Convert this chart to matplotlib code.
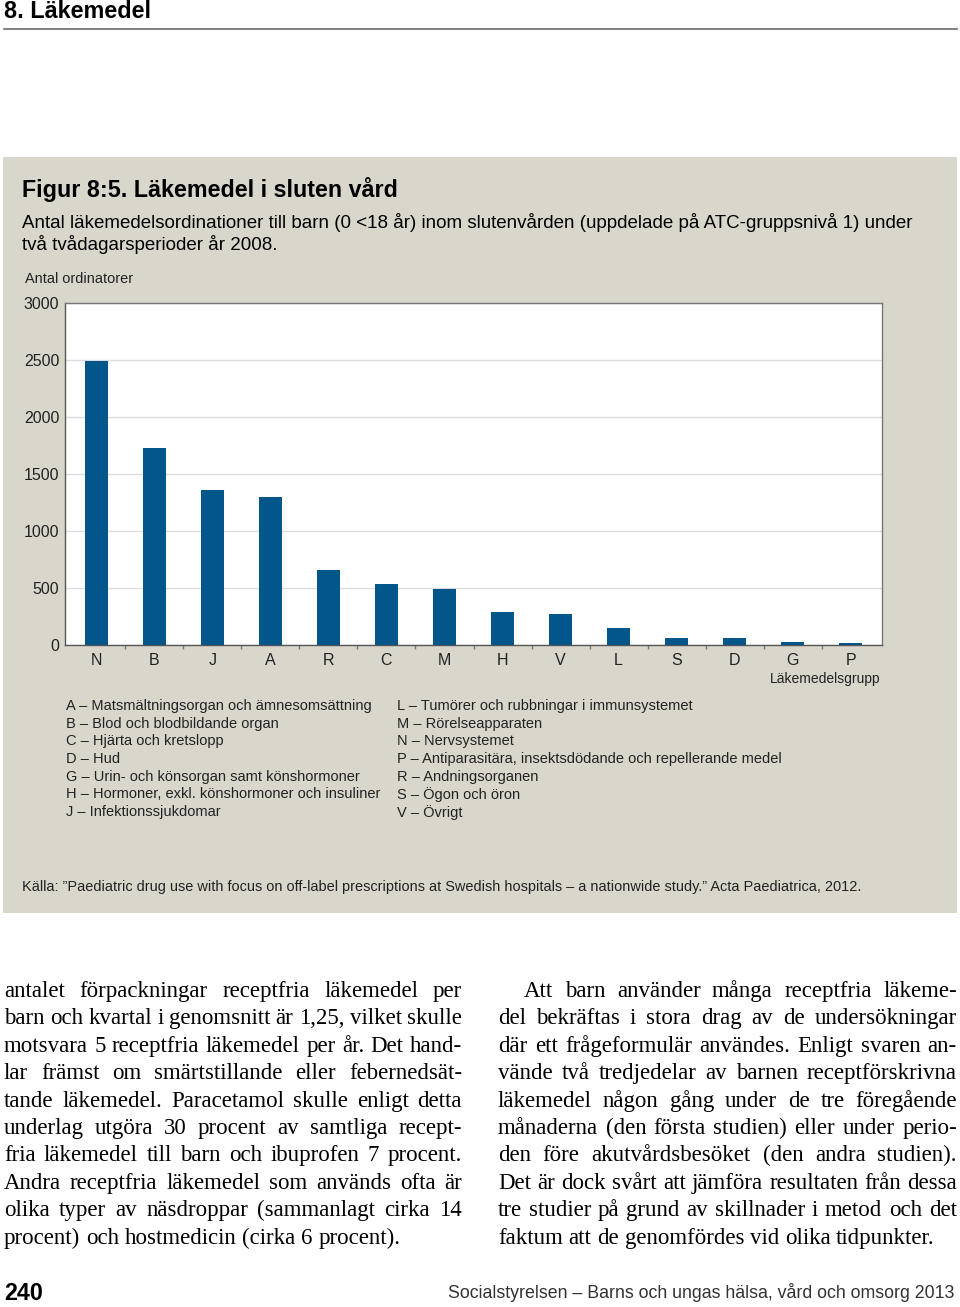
import matplotlib
matplotlib.use("Agg")
import matplotlib.pyplot as plt
from matplotlib import font_manager
from matplotlib.patches import Rectangle
from matplotlib.lines import Line2D

# data
groups = ['N', 'B', 'J', 'A', 'R', 'C', 'M', 'H', 'V', 'L', 'S', 'D', 'G', 'P']
counts = [2490, 1725, 1360, 1300, 655, 535, 490, 290, 275, 150, 60, 60, 30, 15]
y_ticks = [0, 500, 1000, 1500, 2000, 2500, 3000]

legend_left = [
    "A – Matsmältningsorgan och ämnesomsättning",
    "B – Blod och blodbildande organ",
    "C – Hjärta och kretslopp",
    "D – Hud",
    "G – Urin- och könsorgan samt könshormoner",
    "H – Hormoner, exkl. könshormoner och insuliner",
    "J – Infektionssjukdomar",
]
legend_right = [
    "L – Tumörer och rubbningar i immunsystemet",
    "M – Rörelseapparaten",
    "N – Nervsystemet",
    "P – Antiparasitära, insektsdödande och repellerande medel",
    "R – Andningsorganen",
    "S – Ögon och öron",
    "V – Övrigt",
]

body_left = [
    "antalet förpackningar receptfria läkemedel per",
    "barn och kvartal i genomsnitt är 1,25, vilket skulle",
    "motsvara 5 receptfria läkemedel per år. Det hand-",
    "lar främst om smärtstillande eller febernedsät-",
    "tande läkemedel. Paracetamol skulle enligt detta",
    "underlag utgöra 30 procent av samtliga recept-",
    "fria läkemedel till barn och ibuprofen 7 procent.",
    "Andra receptfria läkemedel som används ofta är",
    "olika typer av näsdroppar (sammanlagt cirka 14",
    "procent) och hostmedicin (cirka 6 procent).",
]
body_right = [
    "Att barn använder många receptfria läkeme-",
    "del bekräftas i stora drag av de undersökningar",
    "där ett frågeformulär användes. Enligt svaren an-",
    "vände två tredjedelar av barnen receptförskrivna",
    "läkemedel någon gång under de tre föregående",
    "månaderna (den första studien) eller under perio-",
    "den före akutvårdsbesöket (den andra studien).",
    "Det är dock svårt att jämföra resultaten från dessa",
    "tre studier på grund av skillnader i metod och det",
    "faktum att de genomfördes vid olika tidpunkter.",
]

# fonts: pick a narrow sans if there is one
names = {f.name for f in font_manager.fontManager.ttflist}
SANS = 'Liberation Sans Narrow' if 'Liberation Sans Narrow' in names else 'Liberation Sans'
SERIF = 'Liberation Serif'
plt.rcParams['font.family'] = [SANS, 'DejaVu Sans']

W, H = 960, 1307
BOX = '#d9d7cc'
BAR = '#03568a'

fig = plt.figure(figsize=(W / 100, H / 100), dpi=100)
renderer = fig.canvas.get_renderer()


def fx(x):
    return x / W


def fy(y):
    return 1 - y / H


def fit_text(x, y, s, width, size=12, **kw):
    # place text and scale its size so it covers the same width as in the reference
    t = fig.text(fx(x), fy(y), s, fontsize=size, va='center', **kw)
    w = t.get_window_extent(renderer).width
    t.set_fontsize(size * width / w)
    return t


def justify(lines, x0, width, y0, dy, size, indent=0):
    for i, line in enumerate(lines):
        words = line.split()
        xs = x0 + (indent if i == 0 else 0)
        avail = x0 + width - xs
        y = y0 + i * dy
        texts = [fig.text(0, fy(y), w, fontsize=size, family=SERIF, va='baseline') for w in words]
        widths = [t.get_window_extent(renderer).width for t in texts]
        em = size * 100 / 72
        min_gap = 0.18 * em
        need = sum(widths) + min_gap * (len(words) - 1)
        if need > avail:
            # squeeze the line a little, as the reference typesetting does
            k = avail / need
            for t in texts:
                t.set_fontsize(size * k)
            widths = [w * k for w in widths]
        if i == len(lines) - 1:
            gap = 0.25 * em
        else:
            gap = (avail - sum(widths)) / (len(words) - 1)
        x = xs
        for t, w in zip(texts, widths):
            t.set_x(fx(x))
            x += w + gap


# grey figure box
fig.patches.append(Rectangle((fx(3), fy(913)), 954 / W, 756 / H, transform=fig.transFigure,
                             facecolor=BOX, edgecolor='none', zorder=0))

# page header
fit_text(4, 12, "8. Läkemedel", 147, 16, fontweight='bold')
fig.add_artist(Line2D([fx(4), fx(957)], [fy(28.5), fy(28.5)], color='#6a6a6a', lw=1.2))

# figure title and subtitle
fit_text(22, 190, "Figur 8:5. Läkemedel i sluten vård", 375, 16, fontweight='bold')
sub = fit_text(22, 222, "Antal läkemedelsordinationer till barn (0 <18 år) inom slutenvården "
               "(uppdelade på ATC-gruppsnivå 1) under", 891, 13)
fig.text(fx(22), fy(244), "två tvådagarsperioder år 2008.", fontsize=sub.get_fontsize(), va='center')

# the bar chart
ax = fig.add_axes([fx(65), fy(645), (882 - 65) / W, (645 - 303) / H])
ax.set_zorder(2)
pos = list(range(len(groups)))
ax.bar(pos, counts, width=0.39, color=BAR, zorder=3)
ax.set_xlim(-0.54, len(groups) - 0.46)
ax.set_ylim(0, 3000)
ax.set_yticks(y_ticks)
ax.set_xticks(pos)
ax.set_xticklabels(groups)
ax.set_xticks([p + 0.5 for p in pos[:-1]], minor=True)
ax.grid(axis='y', color='#dcdcdc', lw=1, zorder=0)
ax.tick_params(axis='y', length=0, pad=4, labelsize=11.5, labelcolor='#222222')
ax.tick_params(axis='x', which='major', length=0, pad=6, labelsize=11.5, labelcolor='#222222')
ax.tick_params(axis='x', which='minor', length=3, width=1, color='#777777', direction='out')
for s in ['left', 'bottom']:
    ax.spines[s].set_color('#555555')
for s in ['top', 'right']:
    ax.spines[s].set_color('#777777')
for s in ax.spines.values():
    s.set_linewidth(1)

fit_text(25, 279, "Antal ordinatorer", 107, 11, color='#222222')
fit_text(770, 679, "Läkemedelsgrupp", 110, 11, color='#222222')

# legend of ATC groups
leg = fit_text(397, 759, legend_right[3], 380, 11, color='#222222')
lsize = leg.get_fontsize()
for i, s in enumerate(legend_left):
    fig.text(fx(66), fy(706 + i * 17.7), s, fontsize=lsize, va='center', color='#222222')
for i, s in enumerate(legend_right):
    if i == 3:
        continue
    fig.text(fx(397), fy(706 + i * 17.7), s, fontsize=lsize, va='center', color='#222222')

# source
fit_text(22, 887, "Källa: ”Paediatric drug use with focus on off-label prescriptions at Swedish "
         "hospitals – a nationwide study.” Acta Paediatrica, 2012.", 830, 11, color='#222222')

# body text in two justified columns
justify(body_left, 4, 458, 997, 27.4, 16.5)
justify(body_right, 498, 459, 997, 27.4, 16.5, indent=26)

# page footer
fit_text(4, 1293, "240", 39, 15, fontweight='bold')
fit_text(448, 1292, "Socialstyrelsen – Barns och ungas hälsa, vård och omsorg 2013", 509, 14,
         color='#333333')

fig.savefig("out.png", dpi=100)
